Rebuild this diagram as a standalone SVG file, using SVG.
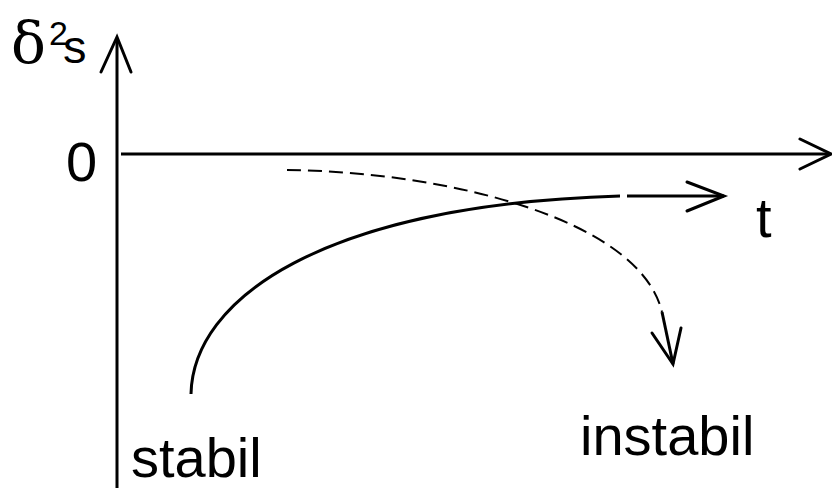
<svg xmlns="http://www.w3.org/2000/svg" width="832" height="488" viewBox="0 0 832 488">
<style>
.ax{stroke:#000;stroke-width:3;fill:none;stroke-linecap:butt}
.cv{stroke:#000;stroke-width:3;fill:none}
.ds{stroke:#000;stroke-width:2;fill:none;stroke-dasharray:14 7}
.ah{stroke:#000;stroke-width:3;fill:none;stroke-linecap:round;stroke-linejoin:miter}
.t{font-family:"Liberation Sans",Arial,sans-serif;font-size:56px;fill:#000}
.g{font-family:"DejaVu Serif","Liberation Serif",serif}
</style>
<rect width="832" height="488" fill="#fff"/>
<g id="connectors">
<g id="y-axis">
<line class="ax" x1="117" y1="488" x2="117" y2="38"/>
<polyline class="ah" points="101,72 117,37 131,72"/>
</g>
<g id="x-axis">
<line class="ax" x1="121" y1="154" x2="830" y2="154"/>
<polyline class="ah" points="800,139 831,154 800,169"/>
</g>
<g id="stable-curve">
<path class="cv" d="M191,394 C193,300 320,205 620,196"/>
<line class="cv" x1="627" y1="196" x2="724" y2="196"/>
<polyline class="ah" points="687,182 724,196 687,211"/>
</g>
<g id="unstable-curve">
<path class="ds" d="M287,170 C450,172 640,220 662,312"/>
<line class="cv" x1="662" y1="312" x2="673" y2="364"/>
<polyline class="ah" points="652,333 673,364 681,328"/>
</g>
</g>
<g id="label-ds">
<text x="11" y="63" class="t g" font-size="58" style="font-size:58px">δ</text>
<text x="49" y="45" font-family="Liberation Sans, Arial, sans-serif" font-size="34">2</text>
<text x="63" y="63" font-family="Liberation Sans, Arial, sans-serif" font-size="47">s</text>
</g>
<g id="label-zero"><text x="66" y="181" class="t">0</text></g>
<g id="label-t"><text x="756" y="237" class="t">t</text></g>
<g id="label-stabil"><text x="131" y="477" class="t">stabil</text></g>
<g id="label-instabil"><text x="580" y="455" class="t">instabil</text></g>
</svg>
